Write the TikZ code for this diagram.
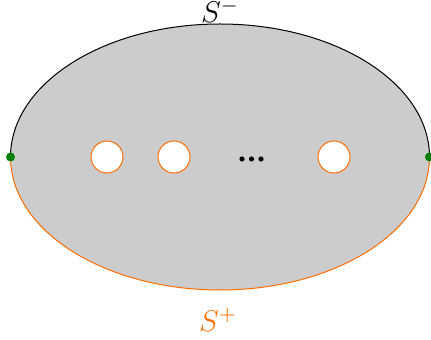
\documentclass[tikz,border=0pt]{standalone}
\usepackage{amsmath, amssymb}
\usetikzlibrary{positioning}
\definecolor{bdorange}{RGB}{255,108,0}
\tikzset{
  hole/.style={draw=bdorange, fill=white},
  endpt/.style={fill=green!50!black},
  bdlabel/.style={font=\large, inner sep=1pt}
}

\begin{document}
\begin{tikzpicture}[x=0.4pt, y=0.4pt]
      \useasboundingbox (0,0) rectangle (431,339);
      % surface
      \fill[gray!40] (220,182) ellipse [x radius=209.5, y radius=133];
      \draw[black] (10.5,182) arc [start angle=180, end angle=0, x radius=209.5, y radius=133];
      \draw[bdorange] (10.5,182) arc [start angle=180, end angle=360, x radius=209.5, y radius=133];
      % holes
      \foreach \cx in {107,174,334}
        \draw[hole] (\cx,182) circle [radius=16];
      \foreach \dx in {242,251.5,261}
        \fill (\dx,180) circle [radius=2.6];
      \fill[endpt] (10.5,182) circle [radius=4.5];
      \fill[endpt] (429.5,182) circle [radius=4.5];
      % labels
      \node[bdlabel] (sminus) at (220,328) {$S^-$};
      \node[bdlabel, text=bdorange] (splus) at (218,19) {$S^+$};
    \end{tikzpicture}
\end{document}
